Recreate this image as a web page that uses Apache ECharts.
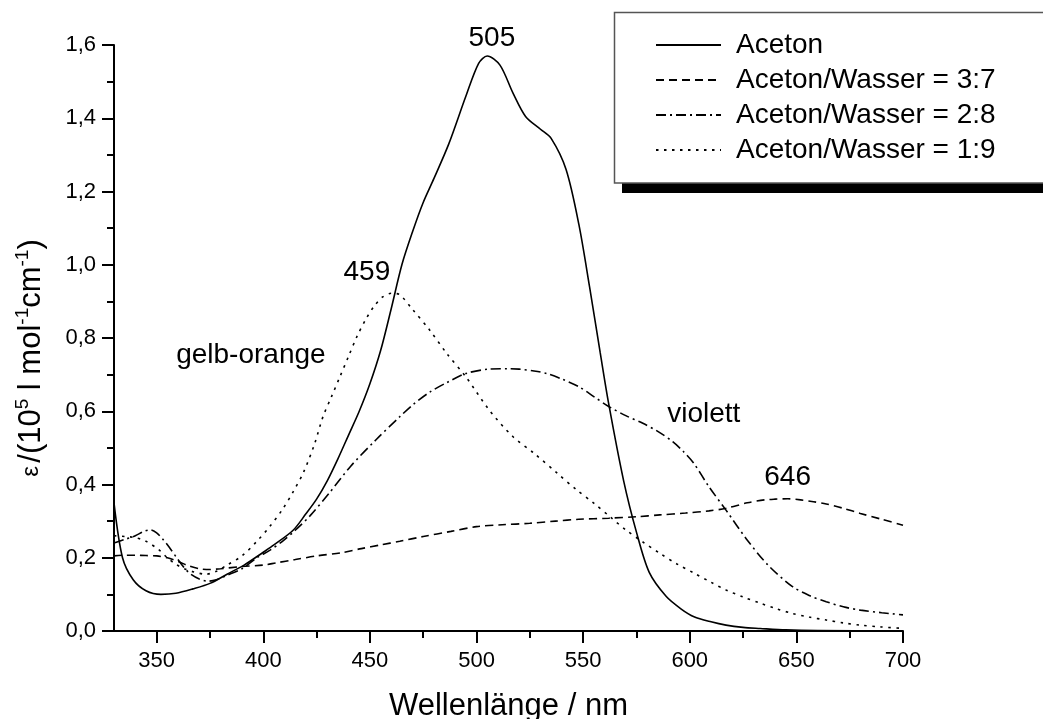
<!DOCTYPE html>
<html>
<head>
<meta charset="utf-8">
<script src="https://cdn.jsdelivr.net/npm/echarts@6/dist/echarts.min.js"></script>
<style>
  html, body { margin: 0; padding: 0; background: #fff; }
  #chart { width: 1043px; height: 719px; }
</style>
</head>
<body>
<div id="chart"></div>
<script>
// Absorption spectra: wavelength (nm) vs. molar extinction (10^5 l mol^-1 cm^-1)
const seriesNames = ['Aceton', 'Aceton/Wasser = 3:7', 'Aceton/Wasser = 2:8', 'Aceton/Wasser = 1:9'];

const aceton = [
  [330, 0.35], [334, 0.20], [339, 0.14], [345, 0.11], [352, 0.10], [359, 0.103], [367, 0.115],
  [375, 0.13], [383, 0.155], [391, 0.18], [400, 0.215], [405, 0.235], [414, 0.275], [420, 0.32],
  [425, 0.36], [430, 0.41], [435, 0.47], [440, 0.535], [445, 0.60], [450, 0.675], [455, 0.765],
  [460, 0.88], [465, 1.0], [470, 1.09], [475, 1.17], [480, 1.235], [487, 1.33],
  [495, 1.46], [501, 1.55], [505, 1.57], [511, 1.545], [517, 1.47], [523, 1.405], [530, 1.37],
  [535, 1.345], [542, 1.26], [548, 1.11], [553, 0.94], [558, 0.76], [562, 0.62], [569, 0.41],
  [575, 0.27], [581, 0.16], [589, 0.094], [596, 0.06], [602, 0.039], [610, 0.025], [617, 0.016],
  [625, 0.01], [633, 0.007], [645, 0.003], [660, 0.001], [700, 0.0]
];

const ratio37 = [
  [330, 0.205], [335, 0.207], [340, 0.207], [345, 0.206], [350, 0.205], [355, 0.2], [360, 0.19],
  [365, 0.178], [370, 0.17], [375, 0.168], [380, 0.17], [390, 0.176], [400, 0.18], [406, 0.186],
  [415, 0.195], [425, 0.205], [437, 0.214], [446, 0.225], [455, 0.235], [464, 0.245], [475, 0.258],
  [488, 0.272], [500, 0.285], [512, 0.29], [525, 0.294], [537, 0.3], [548, 0.305], [562, 0.308],
  [575, 0.312], [586, 0.317], [598, 0.322], [609, 0.328], [617, 0.335], [627, 0.35], [635, 0.358],
  [640, 0.36], [646, 0.361], [652, 0.358], [658, 0.353], [664, 0.347], [672, 0.335], [680, 0.321],
  [690, 0.305], [700, 0.289]
];

const ratio28 = [
  [330, 0.24], [335, 0.25], [340, 0.26], [344, 0.272], [347, 0.276], [350, 0.268], [353, 0.25],
  [356, 0.228], [360, 0.195], [363, 0.172], [366, 0.155], [370, 0.142], [374, 0.136], [378, 0.14],
  [383, 0.152], [390, 0.17], [397, 0.2], [403, 0.22], [409, 0.245], [415, 0.275], [422, 0.315],
  [431, 0.377], [441, 0.45], [453, 0.523], [464, 0.585], [470, 0.617], [478, 0.652], [486, 0.678],
  [495, 0.703], [506, 0.715], [515, 0.716], [520, 0.715], [527, 0.71], [533, 0.703], [540, 0.688],
  [548, 0.667], [555, 0.64], [562, 0.613], [570, 0.588], [578, 0.567], [585, 0.545], [592, 0.517],
  [597, 0.49], [602, 0.457], [609, 0.394], [617, 0.33], [627, 0.248], [637, 0.178], [648, 0.122],
  [656, 0.097], [664, 0.08], [672, 0.066], [680, 0.057], [690, 0.05], [700, 0.044]
];

const ratio19 = [
  [330, 0.26], [335, 0.258], [340, 0.255], [345, 0.245], [351, 0.222], [355, 0.2], [359, 0.182],
  [363, 0.17], [367, 0.162], [373, 0.155], [378, 0.163], [383, 0.18], [390, 0.205], [397, 0.245],
  [403, 0.285], [409, 0.332], [414, 0.38], [419, 0.435], [424, 0.51], [428, 0.585], [432, 0.64],
  [436, 0.695], [440, 0.75], [444, 0.805], [448, 0.85], [452, 0.887], [456, 0.912], [460, 0.922],
  [464, 0.918], [470, 0.878], [478, 0.822], [486, 0.758], [495, 0.694], [506, 0.603], [517, 0.531],
  [527, 0.485], [538, 0.43], [547, 0.385], [555, 0.349], [563, 0.31], [570, 0.276], [578, 0.243],
  [586, 0.212], [594, 0.183], [602, 0.158], [610, 0.133], [617, 0.112], [625, 0.093], [633, 0.076],
  [640, 0.062], [648, 0.048], [656, 0.038], [664, 0.03], [672, 0.022], [680, 0.016], [690, 0.011],
  [700, 0.007]
];

// Tick values on the wavelength axis
const xMajorTicks = [350, 400, 450, 500, 550, 600, 650, 700];
const xMinorTicks = [375, 425, 475, 525, 575, 625, 675];

// Annotations in data coordinates (nm, extinction)
const noteTexts = ['505', '459', 'gelb-orange', 'violett', '646'];
const noteAt = [[507.2, 1.618], [448.6, 0.98], [394.2, 0.752], [606.6, 0.592], [645.9, 0.42]];

const FONT = 'Liberation Sans, Arial, Helvetica, sans-serif';
const dashStyles = ['solid', [8, 5], [10, 4, 2, 4], [2.5, 5.5]];
const seriesData = [aceton, ratio37, ratio28, ratio19];

const chart = echarts.init(document.getElementById('chart'), null, { renderer: 'canvas' });

const lineSeries = seriesNames.map((name, i) => ({
  name: name,
  type: 'line',
  data: seriesData[i],
  xAxisIndex: 0,
  yAxisIndex: 0,
  symbol: 'none',
  smooth: 0.3,
  color: '#000',
  lineStyle: { color: '#000', width: 1.6, type: dashStyles[i] },
  z: 3
}));

const noteSeries = {
  name: 'notes',
  type: 'scatter',
  xAxisIndex: 0,
  yAxisIndex: 0,
  silent: true,
  clip: false,
  symbolSize: 0,
  itemStyle: { opacity: 1 },
  data: noteTexts.map((t, i) => ({ name: t, value: noteAt[i] })),
  label: {
    show: true,
    position: 'inside',
    formatter: '{b}',
    color: '#000',
    opacity: 1,
    textBorderWidth: 0,
    fontFamily: FONT,
    fontSize: 28
  },
  z: 5
};

const option = {
  animation: false,
  backgroundColor: '#fff',
  textStyle: { fontFamily: FONT, color: '#000' },
  grid: { left: 114, right: 140, top: 45, bottom: 88, containLabel: false, outerBoundsMode: 'none' },
  xAxis: [
    {
      type: 'value',
      position: 'bottom',
      min: 330,
      max: 700,
      name: 'Wellenlänge / nm',
      nameLocation: 'middle',
      nameGap: 60,
      nameTextStyle: { fontFamily: FONT, fontSize: 31, color: '#000' },
      axisLine: { show: true, lineStyle: { color: '#000', width: 2 } },
      axisTick: { show: true, customValues: xMajorTicks, length: 12, lineStyle: { color: '#000', width: 2 } },
      axisLabel: { show: true, customValues: xMajorTicks, fontFamily: FONT, fontSize: 22, color: '#000', margin: 19 },
      splitLine: { show: false }
    },
    {
      type: 'value',
      position: 'bottom',
      min: 330,
      max: 700,
      axisLine: { show: false },
      axisTick: { show: true, customValues: xMinorTicks, length: 7, lineStyle: { color: '#000', width: 2 } },
      axisLabel: { show: false },
      splitLine: { show: false }
    }
  ],
  yAxis: {
    type: 'value',
    min: 0,
    max: 1.6,
    interval: 0.2,
    axisLine: { show: true, lineStyle: { color: '#000', width: 2 } },
    axisTick: { show: true, length: 12, lineStyle: { color: '#000', width: 2 } },
    minorTick: { show: true, splitNumber: 2, length: 7, lineStyle: { color: '#000', width: 2 } },
    axisLabel: {
      fontFamily: FONT, fontSize: 22, color: '#000', margin: 18,
      formatter: v => v.toFixed(1).replace('.', ',')
    },
    splitLine: { show: false },
    minorSplitLine: { show: false }
  },
  legend: {
    data: seriesNames,
    orient: 'vertical',
    left: 655,
    top: 31,
    padding: 0,
    itemWidth: 65,
    itemHeight: 28,
    itemGap: 7,
    z: 10,
    selectedMode: false,
    itemStyle: { opacity: 0 },
    textStyle: { fontFamily: FONT, fontSize: 28, lineHeight: 28, color: '#000', padding: [0, 0, 0, 10] }
  },
  graphic: [
    {
      type: 'rect', z: 1,
      shape: { x: 622, y: 23, width: 500, height: 170 },
      style: { fill: '#000' }
    },
    {
      type: 'rect', z: 2,
      shape: { x: 614.5, y: 12.5, width: 500, height: 170.5 },
      style: { fill: '#fff', stroke: '#555', lineWidth: 1.5 }
    },
    {
      type: 'text', z: 10,
      x: 31, y: 358,
      rotation: Math.PI / 2,
      style: {
        text: '{e|ε} {n|/(10}{s|5}{n| l mol}{s|-1}{n|cm}{s|-1}{n|)}',
        align: 'center',
        verticalAlign: 'middle',
        fill: '#000',
        rich: {
          e: { fontFamily: FONT, fontSize: 24, lineHeight: 36, verticalAlign: 'middle', fill: '#000' },
          n: { fontFamily: FONT, fontSize: 31, lineHeight: 36, verticalAlign: 'middle', fill: '#000' },
          s: { fontFamily: FONT, fontSize: 19, lineHeight: 19, verticalAlign: 'top', fill: '#000' }
        }
      }
    }
  ],
  series: lineSeries.concat([noteSeries])
};

chart.setOption(option);
</script>
</body>
</html>
